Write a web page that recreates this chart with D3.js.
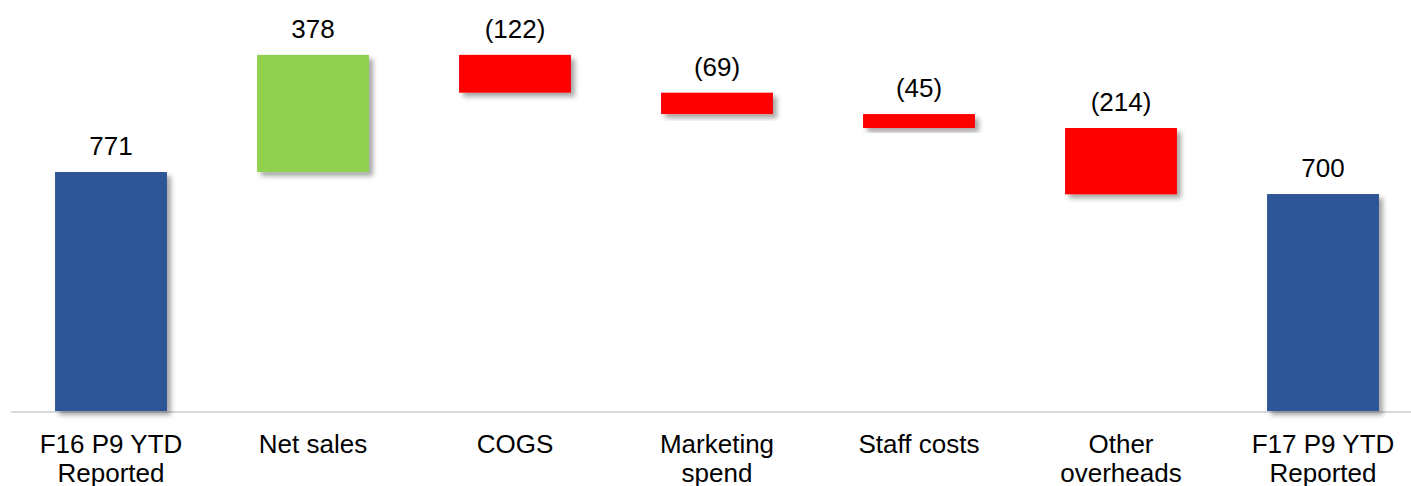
<!DOCTYPE html>
<html>
<head>
<meta charset="utf-8">
<script src="https://cdn.jsdelivr.net/npm/d3@7"></script>
<style>
  body { margin: 0; background: #fff; }
  svg { display: block; }
</style>
</head>
<body>
<div id="chart"></div>
<script>
// waterfall data
const categories = [
    ["F16 P9 YTD", "Reported"],
    ["Net sales"],
    ["COGS"],
    ["Marketing", "spend"],
    ["Staff costs"],
    ["Other", "overheads"],
    ["F17 P9 YTD", "Reported"]
];
const values = [771, 378, -122, -69, -45, -214, 700];
const kinds = ["total", "delta", "delta", "delta", "delta", "delta", "total"];
const valueLabels = ["771", "378", "(122)", "(69)", "(45)", "(214)", "700"];

const width = 1411, height = 486;
const baseY = 411;

const colors = { total: "#2F5597", up: "#92D050", down: "#FF0000" };

// bereken start en eind van elke balk
let running = 0;
const bars = values.map(function (v, i) {
    let y0, y1;
    if (kinds[i] === "total") {
        y0 = 0; y1 = v; running = v;
    } else {
        y0 = running; y1 = running + v; running = y1;
    }
    return {
        i: i,
        lo: Math.min(y0, y1),
        hi: Math.max(y0, y1),
        top: Math.max(y0, y1),
        color: kinds[i] === "total" ? colors.total : (v >= 0 ? colors.up : colors.down)
    };
});

const x = d3.scaleBand()
    .domain(d3.range(categories.length))
    .range([10, 10 + 202 * categories.length])
    .paddingInner(0.446)
    .paddingOuter(0.223);

const y = d3.scaleLinear()
    .domain([0, 1326])
    .range([baseY, 0]);

const svg = d3.select("#chart")
    .append("svg")
    .attr("width", width)
    .attr("height", height);

// schaduw filter
const defs = svg.append("defs");
const f = defs.append("filter")
    .attr("id", "shadow")
    .attr("x", "-10%").attr("y", "-10%")
    .attr("width", "130%").attr("height", "140%");
f.append("feDropShadow")
    .attr("dx", 4).attr("dy", 4)
    .attr("stdDeviation", 2.5)
    .attr("flood-color", "#000")
    .attr("flood-opacity", 0.35);

// as lijn
svg.append("line")
    .attr("x1", 11).attr("x2", width)
    .attr("y1", baseY + 1).attr("y2", baseY + 1)
    .attr("stroke", "#d9d9d9")
    .attr("stroke-width", 2);

svg.selectAll(".bar")
    .data(bars)
    .enter()
    .append("rect")
    .attr("class", "bar")
    .attr("x", d => x(d.i))
    .attr("width", x.bandwidth())
    .attr("y", d => y(d.hi))
    .attr("height", d => y(d.lo) - y(d.hi))
    .attr("fill", d => d.color)
    .attr("filter", "url(#shadow)");

// waarde labels
svg.selectAll(".val")
    .data(bars)
    .enter()
    .append("text")
    .attr("class", "val")
    .attr("x", d => x(d.i) + x.bandwidth() / 2)
    .attr("y", d => y(d.top) - 17)
    .attr("text-anchor", "middle")
    .style("font-family", "'Liberation Sans', Arial, sans-serif")
    .style("font-size", "26px")
    .attr("fill", "#000")
    .text(d => valueLabels[d.i]);

// categorie labels
const cat = svg.selectAll(".cat")
    .data(categories)
    .enter()
    .append("text")
    .attr("class", "cat")
    .attr("text-anchor", "middle")
    .style("font-family", "'Liberation Sans', Arial, sans-serif")
    .style("font-size", "26px")
    .attr("fill", "#000");

cat.each(function (lines, i) {
    const t = d3.select(this);
    lines.forEach(function (l, j) {
        t.append("tspan")
            .attr("x", x(i) + x.bandwidth() / 2)
            .attr("y", 453 + j * 29)
            .text(l);
    });
});
</script>
</body>
</html>
